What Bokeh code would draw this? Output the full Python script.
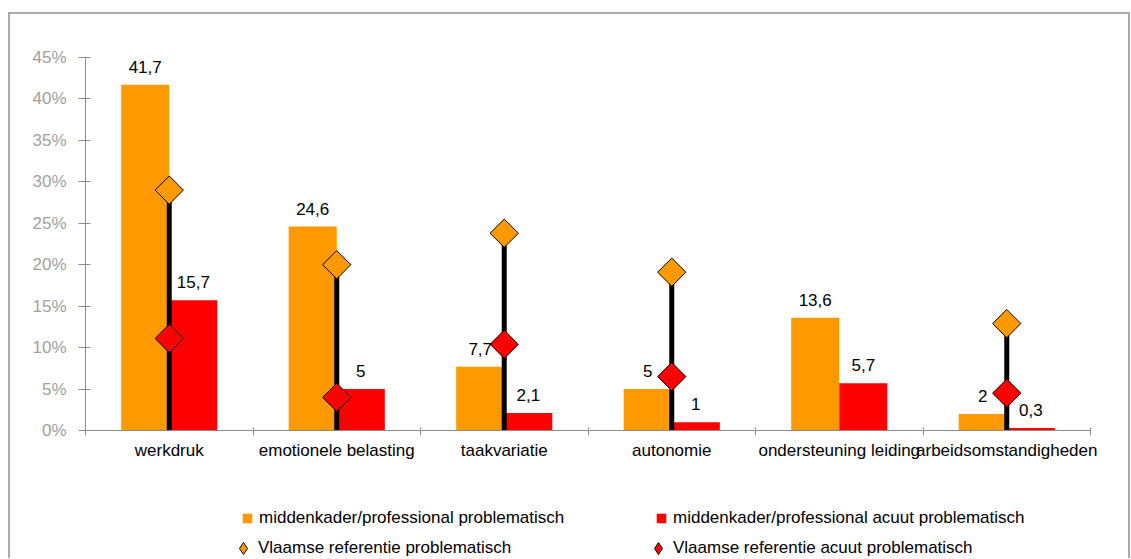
import numpy as np
from bokeh.plotting import figure
from bokeh.layouts import column
from bokeh.models import ColumnDataSource, Range1d, FixedTicker, Legend, LegendItem
from bokeh.core.properties import value
from bokeh.embed import file_html
from bokeh.resources import INLINE

# ---- data ----
categories = ["werkdruk", "emotionele belasting", "taakvariatie", "autonomie",
              "ondersteuning leiding", "arbeidsomstandigheden"]
problematisch = [41.7, 24.6, 7.7, 5.0, 13.6, 2.0]
acuut = [15.7, 5.0, 2.1, 1.0, 5.7, 0.3]
ref_problematisch = [29.0, 20.0, 23.8, 19.1, np.nan, 12.9]
ref_acuut = [11.1, 4.0, 10.4, 6.5, np.nan, 4.5]
y_ticks = [0, 5, 10, 15, 20, 25, 30, 35, 40, 45]
series_names = ["middenkader/professional problematisch",
                "middenkader/professional acuut problematisch",
                "Vlaamse referentie problematisch",
                "Vlaamse referentie acuut problematisch"]

ORANGE = "#FF9900"
RED = "#FF0000"
FONT = "Liberation Sans"
FS = "17px"
AXIS_GRAY = "#8c8c8c"


def fmt(v):
    return f"{v:g}".replace(".", ",")


n = len(categories)
centers = np.arange(n) + 0.5
bar_w = 0.287

bars = ColumnDataSource(dict(
    x_o=centers - bar_w / 2, x_r=centers + bar_w / 2,
    prob=problematisch, acuut=acuut,
    lbl_o=[fmt(v) for v in problematisch], lbl_r=[fmt(v) for v in acuut],
))
mask = ~np.isnan(np.array(ref_problematisch))
refs = ColumnDataSource(dict(
    c=centers[mask],
    zero=np.zeros(mask.sum()),
    rp=np.array(ref_problematisch)[mask],
    ra=np.array(ref_acuut)[mask],
))

W = 1118
H1, H2 = 466, 78
p = figure(width=W, height=H1, output_backend="svg", toolbar_location=None,
           x_range=Range1d(0, n), y_range=Range1d(0, 45),
           min_border_left=75, min_border_right=38, min_border_top=43,
           min_border_bottom=50)
p.outline_line_color = None
p.xgrid.visible = False
p.ygrid.visible = False
p.background_fill_color = "white"

bar_o = p.vbar(x="x_o", top="prob", width=bar_w, bottom=0, source=bars,
               fill_color=ORANGE, line_color=None)
bar_r = p.vbar(x="x_r", top="acuut", width=bar_w, bottom=0, source=bars,
               fill_color=RED, line_color=None)

p.segment(x0="c", y0="zero", x1="c", y1="rp", source=refs,
          line_color="black", line_width=5)
p.scatter(x="c", y="rp", source=refs, marker="square", angle=np.pi / 4,
          size=20, fill_color=ORANGE, line_color="black", line_width=1)
p.scatter(x="c", y="ra", source=refs, marker="square", angle=np.pi / 4,
          size=20, fill_color=RED, line_color="black", line_width=1)

for xcol, ycol, lcol in (("x_o", "prob", "lbl_o"), ("x_r", "acuut", "lbl_r")):
    p.text(x=xcol, y=ycol, text=lcol, source=bars, text_align="center",
           text_baseline="bottom", y_offset=-12,
           text_font=value(FONT), text_font_size=value(FS),
           text_color="black")

# y axis
ya = p.yaxis[0]
ya.ticker = FixedTicker(ticks=y_ticks)
ya.major_label_overrides = {t: f"{t}%" for t in y_ticks}
ya.axis_line_color = AXIS_GRAY
ya.major_tick_line_color = AXIS_GRAY
ya.major_tick_in = 5
ya.major_tick_out = 7
ya.minor_tick_line_color = None
ya.major_label_text_color = "#a0a0a0"
ya.major_label_text_font = FONT
ya.major_label_text_font_size = FS
ya.major_label_standoff = 12

# x axis
xa = p.xaxis[0]
xa.ticker = FixedTicker(ticks=list(centers), minor_ticks=list(range(n + 1)))
xa.major_label_overrides = {float(c): name for c, name in zip(centers, categories)}
xa.axis_line_color = AXIS_GRAY
xa.major_tick_line_color = None
xa.major_tick_in = 0
xa.major_tick_out = 0
xa.minor_tick_line_color = AXIS_GRAY
xa.minor_tick_in = 3
xa.minor_tick_out = 5
xa.major_label_text_color = "black"
xa.major_label_text_font = FONT
xa.major_label_text_font_size = FS
xa.major_label_standoff = 5

# ---- legend panel (its frame is aligned with the chart frame) ----
q = figure(width=W, height=H2, output_backend="svg", toolbar_location=None,
           x_range=Range1d(0, 1), y_range=Range1d(0, 1),
           x_axis_type=None, y_axis_type=None,
           min_border_left=0, min_border_right=0, min_border_top=0,
           min_border_bottom=0)
q.outline_line_color = None
q.xgrid.visible = False
q.ygrid.visible = False

nan_src = ColumnDataSource(dict(x=[np.nan], y=[np.nan]))
lg_sq_o = q.scatter(x="x", y="y", source=nan_src, marker="square",
                    fill_color=ORANGE, line_color=None)
lg_sq_r = q.scatter(x="x", y="y", source=nan_src, marker="square",
                    fill_color=RED, line_color=None)
lg_di_o = q.scatter(x="x", y="y", source=nan_src, marker="diamond",
                    fill_color=ORANGE, line_color="black", line_width=1)
lg_di_r = q.scatter(x="x", y="y", source=nan_src, marker="diamond",
                    fill_color=RED, line_color="black", line_width=1)


def add_legend(label, renderer, loc, g, standoff):
    leg = Legend(items=[LegendItem(label=label, renderers=[renderer])],
                 location=loc, glyph_width=g, glyph_height=g,
                 label_standoff=standoff, padding=0, margin=0, spacing=0,
                 border_line_color=None, background_fill_alpha=0,
                 label_text_font=FONT, label_text_font_size=FS,
                 label_text_color="black", label_height=20)
    q.add_layout(leg, "center")


add_legend(series_names[0], lg_sq_o, (150, 28), 24, 0)
add_legend(series_names[1], lg_sq_r, (564, 28), 24, 0)
add_legend(series_names[2], lg_di_o, (143, -5), 30, 0)
add_legend(series_names[3], lg_di_r, (558, -5), 30, 0)

layout = column(p, q, spacing=0,
                styles={"margin-top": "12px", "margin-left": "8px",
                        "border-top": "2px solid #ababab",
                        "border-left": "2px solid #ababab",
                        "border-right": "2px solid #ababab"})

open("out.html", "w").write(file_html(layout, INLINE))
